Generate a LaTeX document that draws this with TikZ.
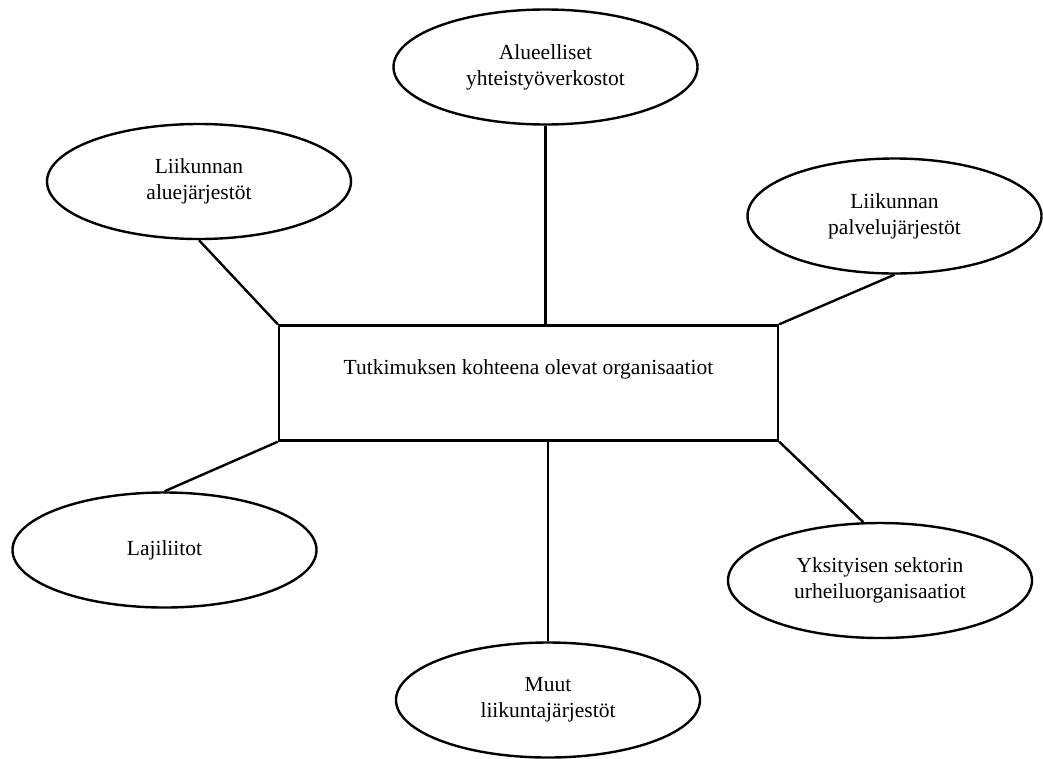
\documentclass[tikz,border=0pt]{standalone}
\usepackage{fontspec}
\setmainfont{Liberation Serif}
\usetikzlibrary{shapes.geometric}

\begin{document}
\begin{tikzpicture}[x=1pt, y=-1pt, line width=2.4pt,
  every node/.style={font=\fontsize{21.5}{26}\selectfont, inner sep=0pt},
  org/.style={draw, ellipse, align=center, minimum width=304pt, minimum height=115pt}]
\useasboundingbox (0,0) rectangle (1043,758);

\node[draw, rectangle, minimum width=499pt, text height=49pt, text depth=66pt] (main) at (528.5,383) {Tutkimuksen kohteena olevat organisaatiot};

\node[org] (alue) at (545.5,67) {Alueelliset\\yhteistyöverkostot};
\node[org] (aluej) at (199,181.5) {Liikunnan\\aluejärjestöt};
\node[org, minimum width=294pt] (palv) at (894.5,216) {Liikunnan\\palvelujärjestöt};
\node[org] (laji) at (164.5,550) {Lajiliitot};
\node[org] (yks) at (880,580.5) {Yksityisen sektorin\\urheiluorganisaatiot};
\node[org] (muut) at (548,700) {Muut\\liikuntajärjestöt};

\draw (alue.south) -- (alue.south |- main.north);
\draw (aluej.south) -- (main.north west);
\draw (palv.south) -- (main.north east);
\draw (main.south west) -- (laji.north);
\draw (main.south east) -- (yks.106);
\draw (muut.north) -- (muut.north |- main.south);
\end{tikzpicture}
\end{document}
